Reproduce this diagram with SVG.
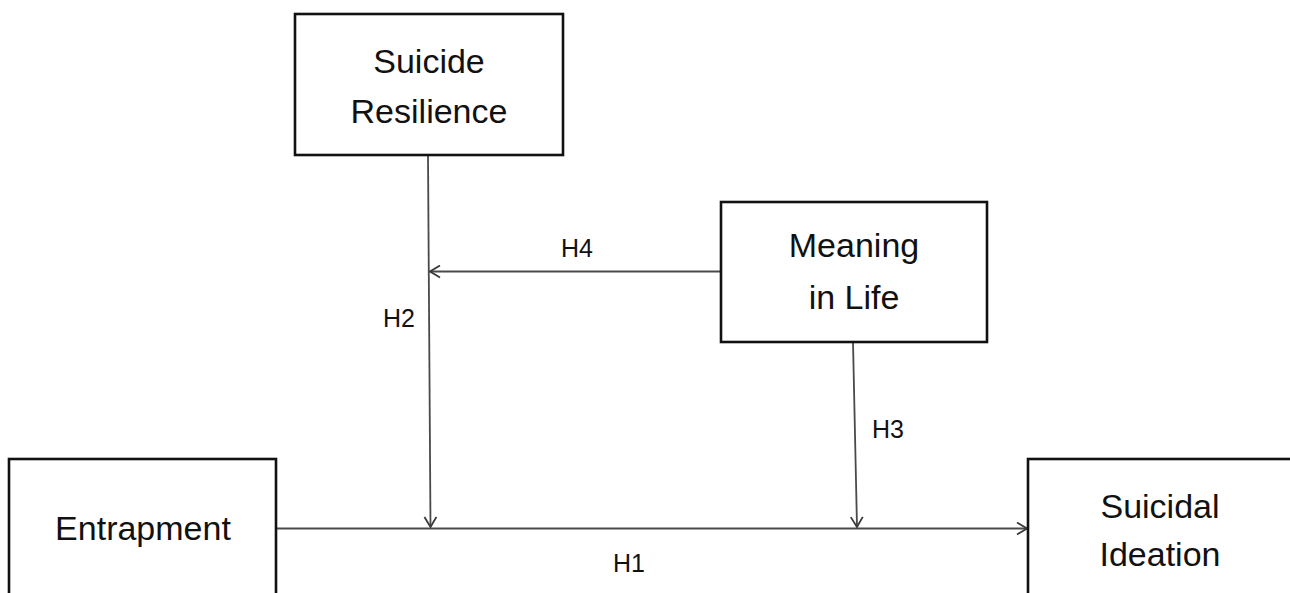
<svg xmlns="http://www.w3.org/2000/svg" width="1290" height="593" viewBox="0 0 1290 593">
<defs>
<marker id="arr" viewBox="0 0 12 14" refX="11" refY="7" markerWidth="12" markerHeight="14" markerUnits="userSpaceOnUse" orient="auto">
<path d="M1,1 L11,7 L1,13" fill="none" stroke="#3a3a3a" stroke-width="1.8"/>
</marker>
<style>
.box{fill:#fff;stroke:#111;stroke-width:2.6}
.t{font-family:"Liberation Sans",Arial,sans-serif;font-size:34px;fill:#111;text-anchor:middle}
.h{font-family:"Liberation Sans",Arial,sans-serif;font-size:25px;fill:#111;text-anchor:middle}
.c{fill:none;stroke:#4a4a4a;stroke-width:1.8}
</style>
</defs>
<rect width="1290" height="593" fill="#fff"/>
<g id="connectors">
<line class="c" x1="276" y1="528.5" x2="1027" y2="528.5" marker-end="url(#arr)"/>
<line class="c" x1="428" y1="155" x2="430.5" y2="527" marker-end="url(#arr)"/>
<line class="c" x1="721" y1="271.5" x2="430" y2="271.5" marker-end="url(#arr)"/>
<line class="c" x1="853" y1="342" x2="857" y2="527" marker-end="url(#arr)"/>
<text class="h" x="577" y="257">H4</text>
<text class="h" x="399" y="327">H2</text>
<text class="h" x="888" y="438">H3</text>
<text class="h" x="629" y="572">H1</text>
</g>
<g id="suicide-resilience">
<rect class="box" x="295" y="14" width="268" height="141"/>
<text class="t" x="429" y="73">Suicide</text>
<text class="t" x="429" y="123">Resilience</text>
</g>
<g id="meaning-in-life">
<rect class="box" x="721" y="202" width="266" height="140"/>
<text class="t" x="854" y="257">Meaning</text>
<text class="t" x="854" y="309">in Life</text>
</g>
<g id="entrapment">
<rect class="box" x="9" y="459" width="267" height="150"/>
<text class="t" x="143" y="540">Entrapment</text>
</g>
<g id="suicidal-ideation">
<rect class="box" x="1028" y="459" width="280" height="150"/>
<text class="t" x="1160" y="518">Suicidal</text>
<text class="t" x="1160" y="566">Ideation</text>
</g>
</svg>
